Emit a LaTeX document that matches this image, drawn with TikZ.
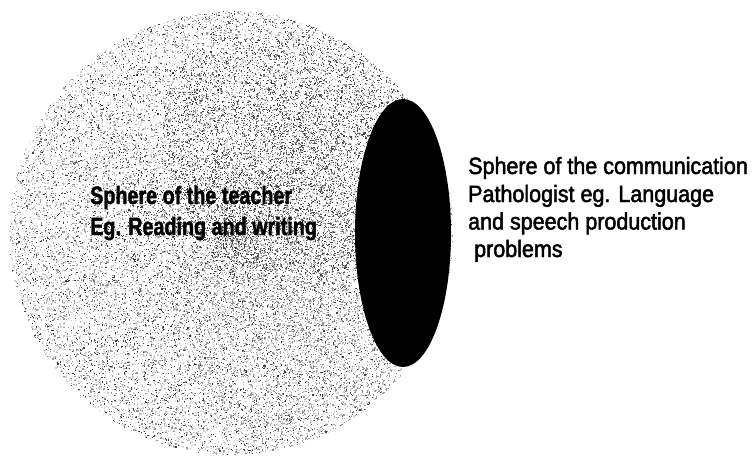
\documentclass[tikz,border=0pt]{standalone}
\usetikzlibrary{shapes.geometric}
\usepackage{fontspec}
\setmainfont{Liberation Sans}
\newfontfamily\rightfont[FakeStretch=0.915,FakeBold=2]{Liberation Sans}
\newfontfamily\leftfont[FakeStretch=0.79,FakeBold=1.5]{Liberation Sans Bold}
\newcommand\speckle[7]{% color, count-chunks, cx, cy, R, exponent, size
  \foreach \k in {1,...,#2}{%
    \draw[#1, line width=#7pt] \foreach \i [evaluate=\i as \a using 360*rnd, evaluate=\i as \r using #5*rnd^#6] in {1,...,500} {({#3+\r*cos(\a)},{#4+\r*sin(\a)}) -- ++(#7,0)};
  }}
\begin{document}
\begin{tikzpicture}[x=1pt,y=-1pt,
  lefttext/.style={font=\leftfont\fontsize{25}{29}\selectfont, inner sep=0pt, anchor=base west, text=black},
  righttext/.style={font=\rightfont\fontsize{23.5}{28}\selectfont, inner sep=0pt, anchor=base west, text=black},
  blob/.style={fill=black, draw=none}]
\useasboundingbox (0,0) rectangle (752,463);
\fill[white] (0,0) rectangle (752,463);
\pgfmathsetseed{4711}
\begin{scope}
\clip (231,233) circle[radius=222];
\speckle{black!18}{22}{231}{233}{222}{0.55}{1.3}
\speckle{black!40}{20}{231}{233}{222}{0.6}{1.2}
\speckle{black!75}{12}{231}{233}{222}{0.7}{1.1}
\speckle{black!65}{8}{300}{140}{140}{0.6}{1.1}
\speckle{black!40}{4}{300}{330}{120}{0.6}{1.1}
\end{scope}
% black overlap ellipse
\node[blob, ellipse, minimum width=96pt, minimum height=268pt, inner sep=0pt] (lens) at (403,233) {};
% texts
\node[lefttext] (t1) at (90,204) {Sphere of the teacher};
\node[lefttext] (t2) at (90,235) {Eg. Reading and writing};
\node[righttext] (r1) at (468,174) {Sphere of the communication};
\node[righttext] (r2) at (468,202) {Pathologist eg. Language};
\node[righttext] (r3) at (468,229.5) {and speech production};
\node[righttext] (r4) at (468,257) {\ problems};
\end{tikzpicture}
\end{document}
